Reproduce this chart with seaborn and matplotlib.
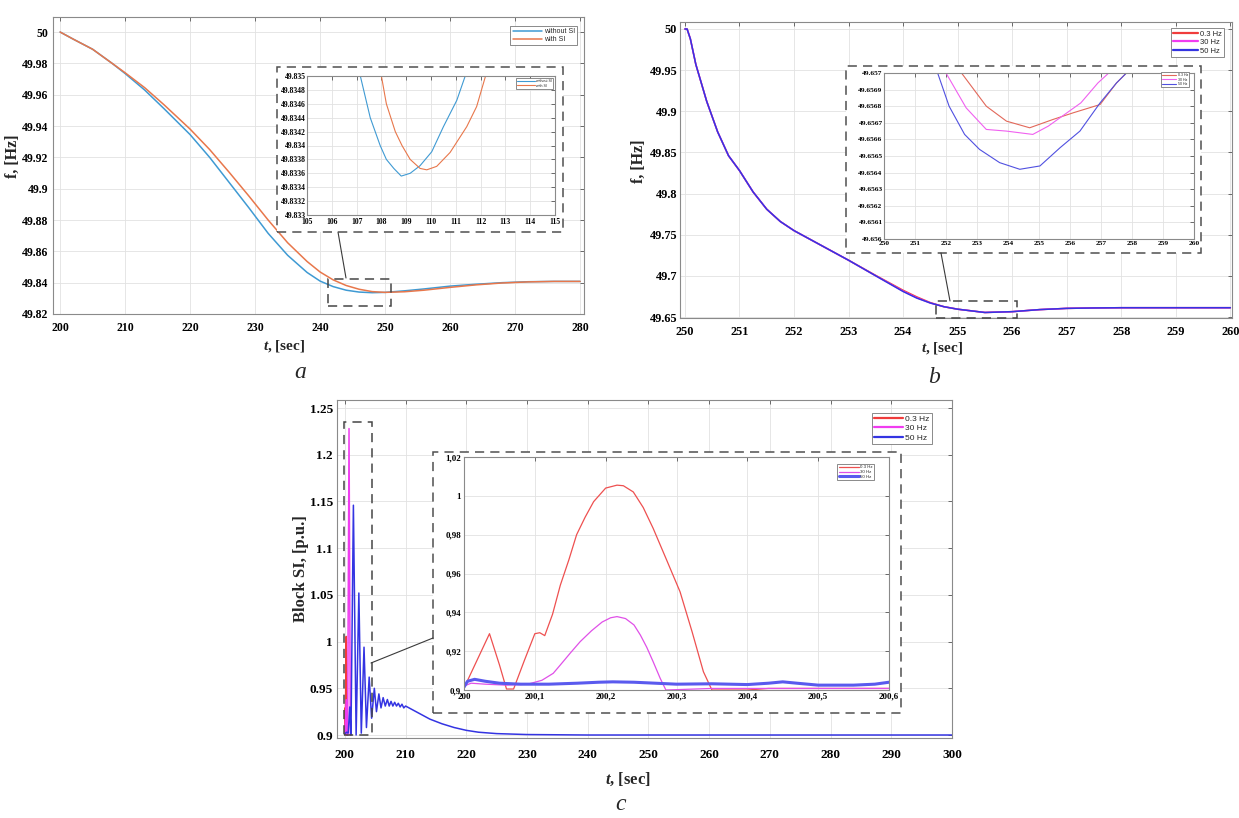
import numpy as np
import seaborn as sns
import matplotlib.pyplot as plt
from matplotlib.patches import Rectangle
from matplotlib.lines import Line2D
from matplotlib.ticker import FuncFormatter

# ---------------- panel a : frequency with / without SI ----------------
t_a = [200, 202, 205, 208, 210, 213, 216, 220, 223, 226, 229, 232, 235, 238,
       240, 242, 244, 246, 248, 250, 253, 256, 260, 264, 268, 272, 276, 280]
f_a_without = [50.0, 49.9955, 49.989, 49.980, 49.9735, 49.963, 49.951, 49.9345,
               49.920, 49.904, 49.888, 49.8715, 49.8575, 49.8465, 49.841, 49.8375,
               49.8352, 49.834, 49.8336, 49.8338, 49.8348, 49.836, 49.8378, 49.839,
               49.840, 49.8406, 49.8408, 49.8408]
f_a_with = [50.0, 49.9955, 49.989, 49.980, 49.974, 49.9645, 49.9535, 49.938,
            49.925, 49.9105, 49.8955, 49.880, 49.8655, 49.8535, 49.8468, 49.8418,
            49.8382, 49.8358, 49.8343, 49.8338, 49.8342, 49.8352, 49.837, 49.8386,
            49.8398, 49.8405, 49.8408, 49.8408]

# inset a
ta_in_without = [107.0, 107.15, 107.55, 107.95, 108.2, 108.5, 108.8, 109.16, 109.56,
                 110.03, 110.5, 111.04, 111.38, 111.6]
fa_in_without = [49.8352, 49.8350, 49.8344, 49.8340, 49.8338, 49.83367, 49.83356,
                 49.8336, 49.83371, 49.83391, 49.83427, 49.83465, 49.8350, 49.8352]
ta_in_with = [107.9, 108.0, 108.2, 108.56, 108.83, 109.16, 109.56, 109.83, 110.23,
              110.77, 111.44, 111.84, 112.2, 112.4]
fa_in_with = [49.8352, 49.8350, 49.8346, 49.8342, 49.8340, 49.8338, 49.83367, 49.83365,
              49.8337, 49.8339, 49.83427, 49.83456, 49.8350, 49.8352]

# ---------------- panel b : frequency for three SI frequencies ----------------
t_b = [250.0, 250.04, 250.1, 250.2, 250.4, 250.6, 250.8, 251.0, 251.25, 251.5, 251.75,
       252.0, 252.5, 253.0, 253.5, 254.0, 254.25, 254.5, 254.75, 255.0, 255.5, 256.0,
       256.5, 257.0, 257.5, 258.0, 259.0, 260.0]
f_b_50 = [50.0, 50.0, 49.988, 49.957, 49.912, 49.875, 49.846, 49.828, 49.802, 49.781,
          49.766, 49.755, 49.737, 49.719, 49.700, 49.681, 49.673, 49.667, 49.6625,
          49.6595, 49.6555, 49.6565, 49.659, 49.6605, 49.661, 49.6613, 49.6613, 49.6613]
f_b_30 = [50.0, 50.0, 49.988, 49.957, 49.912, 49.875, 49.846, 49.828, 49.802, 49.781,
          49.766, 49.755, 49.737, 49.719, 49.700, 49.6815, 49.6735, 49.667, 49.6625,
          49.6595, 49.6555, 49.6565, 49.659, 49.6605, 49.661, 49.6613, 49.6613, 49.6613]
f_b_03 = [50.0, 50.0, 49.988, 49.957, 49.912, 49.875, 49.846, 49.828, 49.802, 49.781,
          49.766, 49.755, 49.737, 49.719, 49.7005, 49.6825, 49.6745, 49.6675, 49.6625,
          49.6595, 49.6555, 49.6565, 49.659, 49.6605, 49.661, 49.6613, 49.6613, 49.6613]

# inset b
tb_in_50 = [251.6, 251.73, 252.1, 252.6, 253.08, 253.73, 254.38, 255.03, 255.68,
            256.32, 256.97, 257.5, 257.82, 258.0]
fb_in_50 = [49.65703, 49.6570, 49.65680, 49.65663, 49.65654, 49.65646, 49.65642,
            49.65644, 49.65655, 49.65665, 49.65682, 49.65694, 49.6570, 49.65704]
tb_in_30 = [251.9, 252.0, 252.65, 253.3, 253.95, 254.8, 255.3, 256.35, 256.9, 257.25, 257.4]
fb_in_30 = [49.65703, 49.6570, 49.65679, 49.65666, 49.65665, 49.65663, 49.65668,
            49.65682, 49.65694, 49.6570, 49.65703]
tb_in_03 = [252.4, 252.5, 253.3, 253.95, 254.7, 255.45, 256.1, 256.97, 257.5, 257.82, 258.0]
fb_in_03 = [49.65703, 49.6570, 49.6568, 49.65671, 49.65667, 49.65672, 49.65676,
            49.65681, 49.65694, 49.6570, 49.65704]

# ---------------- panel c : Block SI ----------------
tc_03 = [200.0, 200.04, 200.07, 200.1, 200.22, 200.35, 200.5]
sc_03 = [0.901, 0.929, 0.9005, 0.929, 1.0055, 0.9, 0.9]
tc_30 = [200.0, 200.216, 200.285, 200.45, 200.68, 200.9, 201.0]
sc_30 = [0.902, 0.9378, 0.9, 0.901, 1.228, 0.9, 0.902]
tc_50 = [200.0, 200.3, 200.55, 200.8, 201.0, 201.4, 201.85, 202.3, 202.7, 203.15,
         203.55, 204.0, 204.4, 204.85, 205.2, 205.6, 205.95, 206.3, 206.65, 207.0,
         207.3, 207.6, 207.9, 208.2, 208.5, 208.8, 209.1, 209.4, 209.7, 210.0, 212.0,
         214.0, 216.0, 218.0, 220.0, 222.0, 225.0, 230.0, 240.0, 300.0]
sc_50 = [0.9015, 0.903, 0.902, 0.93, 0.9, 1.146, 0.9, 1.052, 0.902, 0.994, 0.908,
         0.962, 0.918, 0.95, 0.925, 0.944, 0.929, 0.94, 0.931, 0.938, 0.931, 0.936,
         0.931, 0.935, 0.931, 0.934, 0.930, 0.933, 0.929, 0.931, 0.924, 0.917, 0.912,
         0.908, 0.905, 0.903, 0.9015, 0.9005, 0.9, 0.9]

# inset c
tc_in_03 = [200.0, 200.018, 200.036, 200.05, 200.06, 200.07, 200.085, 200.1, 200.107,
            200.114, 200.125, 200.136, 200.148, 200.159, 200.171, 200.183, 200.2,
            200.216, 200.225, 200.239, 200.253, 200.267, 200.286, 200.305, 200.322,
            200.338, 200.35, 200.4, 200.43, 200.6]
sc_in_03 = [0.901, 0.915, 0.929, 0.913, 0.9005, 0.9005, 0.915, 0.929, 0.9295, 0.928,
            0.939, 0.954, 0.967, 0.98, 0.989, 0.997, 1.004, 1.0055, 1.0052, 1.002,
            0.994, 0.9833, 0.967, 0.9506, 0.93, 0.9094, 0.9, 0.9, 0.9008, 0.9008]
tc_in_30 = [200.0, 200.01, 200.03, 200.06, 200.09, 200.11, 200.126, 200.136, 200.15,
            200.164, 200.18, 200.195, 200.207, 200.216, 200.228, 200.24, 200.249,
            200.258, 200.267, 200.277, 200.285, 200.35, 200.6]
sc_in_30 = [0.902, 0.9035, 0.903, 0.9025, 0.903, 0.905, 0.9086, 0.9129, 0.919, 0.9249,
            0.9305, 0.935, 0.9372, 0.9378, 0.9368, 0.9335, 0.9283, 0.922, 0.9146, 0.906,
            0.9, 0.9008, 0.9008]
tc_in_50 = [200.0, 200.005, 200.015, 200.03, 200.05, 200.08, 200.12, 200.16, 200.19,
            200.21, 200.24, 200.27, 200.3, 200.35, 200.4, 200.43, 200.45, 200.47,
            200.5, 200.55, 200.58, 200.6]
sc_in_50 = [0.9015, 0.9045, 0.9055, 0.9045, 0.9035, 0.903, 0.903, 0.9035, 0.904,
            0.9042, 0.904, 0.9035, 0.903, 0.9032, 0.9028, 0.9035, 0.9042, 0.9035,
            0.9025, 0.9025, 0.903, 0.904]

labels_a = ['without SI', 'with SI']
labels_bc = ['0.3 Hz', '30 Hz', '50 Hz']

# colours
c_blue_a, c_orange_a = '#3f9ad3', '#e8774b'
c_red, c_mag, c_blue = '#f03c3c', '#f03cf0', '#3434e2'

W, H = 1239, 818

sns.set_style('whitegrid')
plt.rcParams['font.family'] = ['Liberation Serif', 'DejaVu Serif']
plt.rcParams['font.weight'] = 'bold'
plt.rcParams['mathtext.fontset'] = 'custom'
plt.rcParams['mathtext.it'] = 'Liberation Serif:italic:bold'
plt.rcParams['mathtext.rm'] = 'Liberation Serif:bold'

legend_font = {'family': 'Liberation Sans', 'weight': 'normal'}


def box(x0, y0, x1, y1):
    # pixel box -> figure fraction [left, bottom, width, height]
    return [x0 / W, 1 - y1 / H, (x1 - x0) / W, (y1 - y0) / H]


def fmt(decimals, comma=False):
    def f(v, pos):
        s = f'{v:.{decimals}f}'
        if '.' in s:
            s = s.rstrip('0').rstrip('.')
        return s.replace('.', ',') if comma else s
    return FuncFormatter(f)


def style(ax, xt, yt, xdec, ydec, size, xpad, ypad, comma=False):
    ax.set_xticks(xt)
    ax.set_yticks(yt)
    ax.xaxis.set_major_formatter(fmt(xdec, comma))
    ax.yaxis.set_major_formatter(fmt(ydec, comma))
    ax.tick_params(direction='in', length=3, width=0.6, color='#555555',
                   top=True, right=True, labelsize=size, labelcolor='black')
    ax.tick_params(axis='x', pad=xpad)
    ax.tick_params(axis='y', pad=ypad)
    ax.grid(True, color='#e2e2e2', lw=0.6)
    ax.set_facecolor('white')
    for sp in ax.spines.values():
        sp.set_visible(True)
        sp.set_color('#8a8a8a')
        sp.set_linewidth(0.8)
    ax.set_xlabel('')
    ax.set_ylabel('')


def dashed_frame(x0, y0, x1, y1):
    fig.add_artist(Rectangle((x0 / W, 1 - y1 / H), (x1 - x0) / W, (y1 - y0) / H,
                             transform=fig.transFigure, facecolor='white',
                             edgecolor='#505050', lw=1.1, ls=(0, (6, 4)), zorder=1))


def connector(x0, y0, x1, y1):
    fig.add_artist(Line2D([x0 / W, x1 / W], [1 - y0 / H, 1 - y1 / H],
                          transform=fig.transFigure, color='#3a3a3a', lw=0.8, zorder=1.5))


def zoom_rect(ax, x0, x1, y0, y1):
    ax.add_patch(Rectangle((x0, y0), x1 - x0, y1 - y0, fill=False, ec='#454545',
                           lw=1.1, ls=(0, (6, 4)), zorder=5, clip_on=False))


def line(ax, x, y, color, lw, label=None):
    sns.lineplot(x=x, y=y, ax=ax, color=color, lw=lw, label=label,
                 estimator=None, sort=False, legend=False)


def legend(ax, anchor, size, hl, lw_scale=None):
    lg = ax.legend(loc='upper right', bbox_to_anchor=(anchor[0] / W, 1 - anchor[1] / H),
                   bbox_transform=fig.transFigure, prop=dict(legend_font, size=size),
                   frameon=True, fancybox=False, edgecolor='#777777', framealpha=1,
                   borderpad=0.3, handlelength=hl, handletextpad=0.3, labelspacing=0.15,
                   borderaxespad=0)
    lg.get_frame().set_linewidth(0.6)
    if lw_scale is not None:
        for h in lg.get_lines():
            h.set_linewidth(lw_scale)
    return lg


fig = plt.figure(figsize=(W / 100, H / 100), dpi=100)

# ================= panel a =================
ax_a = fig.add_axes(box(53, 17, 584, 314))
line(ax_a, t_a, f_a_without, c_blue_a, 1.1, labels_a[0])
line(ax_a, t_a, f_a_with, c_orange_a, 1.1, labels_a[1])
ax_a.set_xlim(198.9, 280.6)
ax_a.set_ylim(49.82, 50.0096)
style(ax_a, np.arange(200, 281, 10), np.round(np.arange(49.82, 50.001, 0.02), 2),
      0, 2, 8.5, 6, 3.5)
ax_a.set_ylabel('f, [Hz]', fontsize=11.5, fontweight='bold')
ax_a.yaxis.set_label_coords(-0.06, 0.53)
ax_a.set_xlabel(r'$t$, [sec]', fontsize=11, fontweight='bold')
ax_a.xaxis.set_label_coords(0.435, -0.081)
legend(ax_a, (577, 26), 5, 4.2)
zoom_rect(ax_a, 241.2, 250.9, 49.825, 49.8426)

dashed_frame(277, 67, 563, 232)
connector(346, 278, 338, 232)
ia = fig.add_axes(box(307, 76, 555, 215))
ia.set_zorder(2)
line(ia, ta_in_without, fa_in_without, c_blue_a, 0.8, labels_a[0])
line(ia, ta_in_with, fa_in_with, c_orange_a, 0.8, labels_a[1])
ia.set_xlim(105, 115)
ia.set_ylim(49.833, 49.835)
style(ia, np.arange(105, 116, 1), np.round(np.arange(49.833, 49.83501, 0.0002), 4),
      0, 4, 5.5, 2.5, 1)
legend(ia, (553, 78), 2.6, 5)

fig.text(300 / W, 1 - 373 / H, 'a', fontsize=17, style='italic', weight='normal',
         ha='center', va='center')

# ================= panel b =================
ax_b = fig.add_axes(box(680, 22, 1232, 318))
line(ax_b, t_b, f_b_03, c_red, 1.1, labels_bc[0])
line(ax_b, t_b, f_b_30, c_mag, 1.1, labels_bc[1])
line(ax_b, t_b, f_b_50, c_blue, 1.1, labels_bc[2])
ax_b.set_xlim(249.91, 260.03)
ax_b.set_ylim(49.6488, 50.0085)
style(ax_b, np.arange(250, 261, 1), np.round(np.arange(49.65, 50.001, 0.05), 2),
      0, 2, 8.8, 6, 2)
ax_b.set_ylabel('f, [Hz]', fontsize=11.5, fontweight='bold')
ax_b.yaxis.set_label_coords(-0.06, 0.53)
ax_b.set_xlabel(r'$t$, [sec]', fontsize=11, fontweight='bold')
ax_b.xaxis.set_label_coords(0.475, -0.074)
legend(ax_b, (1224, 28), 5.5, 3.2, 1.6)
zoom_rect(ax_b, 254.61, 256.09, 49.649, 49.6694)

dashed_frame(846, 66, 1201, 253)
connector(950, 301, 941, 253)
ib = fig.add_axes(box(884, 73, 1194, 239))
ib.set_zorder(2)
line(ib, tb_in_03, fb_in_03, '#e2685a', 0.8, labels_bc[0])
line(ib, tb_in_30, fb_in_30, '#f060f0', 0.8, labels_bc[1])
line(ib, tb_in_50, fb_in_50, '#5050e0', 0.8, labels_bc[2])
ib.set_xlim(250, 260)
ib.set_ylim(49.656, 49.657)
style(ib, np.arange(250, 261, 1), np.round(np.arange(49.656, 49.65701, 0.0001), 4),
      0, 4, 5.3, 1.5, 1)
legend(ib, (1189, 72), 2.6, 4)

fig.text(934 / W, 1 - 377 / H, 'b', fontsize=17, style='italic', weight='normal',
         ha='center', va='center')

# ================= panel c =================
ax_c = fig.add_axes(box(337, 400, 952, 738))
line(ax_c, tc_03, sc_03, c_red, 1.1, labels_bc[0])
line(ax_c, tc_30, sc_30, c_mag, 1.1, labels_bc[1])
line(ax_c, tc_50, sc_50, c_blue, 1.1, labels_bc[2])
ax_c.set_xlim(198.7, 300)
ax_c.set_ylim(0.8968, 1.2586)
style(ax_c, np.arange(200, 301, 10), np.round(np.arange(0.9, 1.2501, 0.05), 2),
      0, 2, 9.5, 8, 3)
ax_c.set_ylabel('Block SI, [p.u.]', fontsize=12, fontweight='bold')
ax_c.yaxis.set_label_coords(-0.046, 0.5)
ax_c.set_xlabel(r'$t$, [sec]', fontsize=12, fontweight='bold')
ax_c.xaxis.set_label_coords(0.473, -0.098)
legend(ax_c, (932, 413), 6, 3.4, 1.6)
zoom_rect(ax_c, 199.8, 204.4, 0.8995, 1.235)

dashed_frame(433, 452, 901, 713)
connector(371, 663, 433, 638)
ic = fig.add_axes(box(464, 457, 889, 690))
ic.set_zorder(2)
line(ic, tc_in_03, sc_in_03, '#ee5050', 0.9, labels_bc[0])
line(ic, tc_in_30, sc_in_30, '#e050e8', 0.9, labels_bc[1])
line(ic, tc_in_50, sc_in_50, '#5a5aee', 2.2, labels_bc[2])
ic.set_xlim(200, 200.6)
ic.set_ylim(0.9, 1.02)
style(ic, np.round(np.arange(200, 200.601, 0.1), 1), np.round(np.arange(0.9, 1.0201, 0.02), 2),
      1, 2, 6.5, 2, 2, comma=True)
legend(ic, (874, 464), 3.2, 4.5)

fig.text(621 / W, 1 - 805 / H, 'c', fontsize=17, style='italic', weight='normal',
         ha='center', va='center')

fig.savefig('out.png', dpi=100)
